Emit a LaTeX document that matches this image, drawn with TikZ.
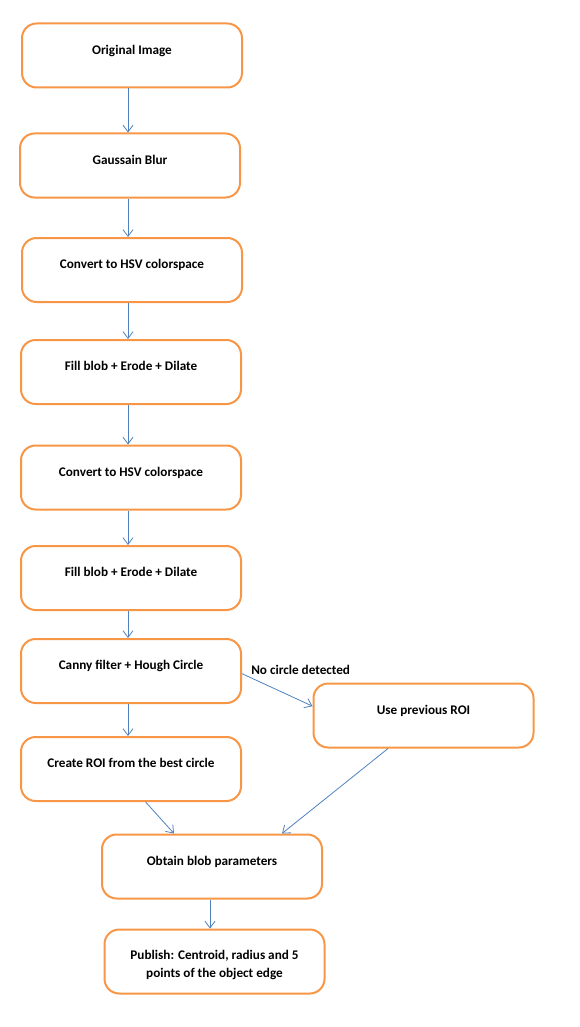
\documentclass[tikz,border=0pt]{standalone}
\usepackage{fontspec}
\setmainfont{Carlito}
\usepackage{xcolor}
\usetikzlibrary{arrows.meta}
\definecolor{boxorange}{HTML}{F79646}
\definecolor{arrowblue}{HTML}{4F81BD}

\begin{document}
\begin{tikzpicture}[x=0.75pt,y=-0.75pt,
  stepbox/.style={draw=boxorange,line width=1.5pt,rounded corners=11pt,
    minimum width=165pt,minimum height=48pt,align=center,
    font=\fontsize{9.9}{13.5}\selectfont\bfseries,text height=7pt,text depth=8.8pt},
  flow/.style={arrowblue,line width=0.6pt,-{Straight Barb[length=5pt,width=7.5pt]}}]
\useasboundingbox(0,0)rectangle(579,1027);
\node[stepbox](orig)at(132,55.5){Original Image};
\node[stepbox](blur)at(130,165.5){Gaussain Blur};
\node[stepbox](hsva)at(132,270){Convert to HSV colorspace};
\node[stepbox](filla)at(131,372){Fill blob + Erode + Dilate};
\node[stepbox](hsvb)at(131,477.5){Convert to HSV colorspace};
\node[stepbox](fillb)at(131,578){Fill blob + Erode + Dilate};
\node[stepbox](canny)at(131,671){Canny filter + Hough Circle};
\node[stepbox](roi)at(131,769){Create ROI from the best circle};
\node[stepbox](prev)at(423.5,715.5){Use previous ROI};
\node[stepbox](blob)at(212,866.5){Obtain blob parameters};
\node[stepbox,text height=,text depth=](pub)at(214.5,961.5){\raisebox{-5pt}[0pt][0pt]{\begin{tabular}{@{}c@{}}Publish: Centroid, radius and 5\\points of the object edge\end{tabular}}};
\node[anchor=west,font=\fontsize{9.9}{11}\selectfont\bfseries,inner sep=0pt](nocirc)at(251,670){No circle detected};
\coordinate(ax)at(128,0);
% main column
\draw[flow](orig.south-|ax)--(blur.north-|ax);
\draw[flow](blur.south-|ax)--(hsva.north-|ax);
\draw[flow](hsva.south-|ax)--(filla.north-|ax);
\draw[flow](filla.south-|ax)--(hsvb.north-|ax);
\draw[flow](hsvb.south-|ax)--(fillb.north-|ax);
\draw[flow](fillb.south-|ax)--(canny.north-|ax);
\draw[flow](canny.south-|ax)--(roi.north-|ax);
% side branch
\draw[flow]([yshift=-2pt]canny.east)--([yshift=7pt]prev.west);
\draw[flow]([xshift=11pt]roi.south)--([xshift=-28.5pt]blob.north);
\draw[flow]([xshift=-26.6pt]prev.south)--([xshift=52.5pt]blob.north);
\draw[flow]([xshift=-1.5pt]blob.south)--([xshift=-1.5pt]blob.south|-pub.north);
\end{tikzpicture}
\end{document}
